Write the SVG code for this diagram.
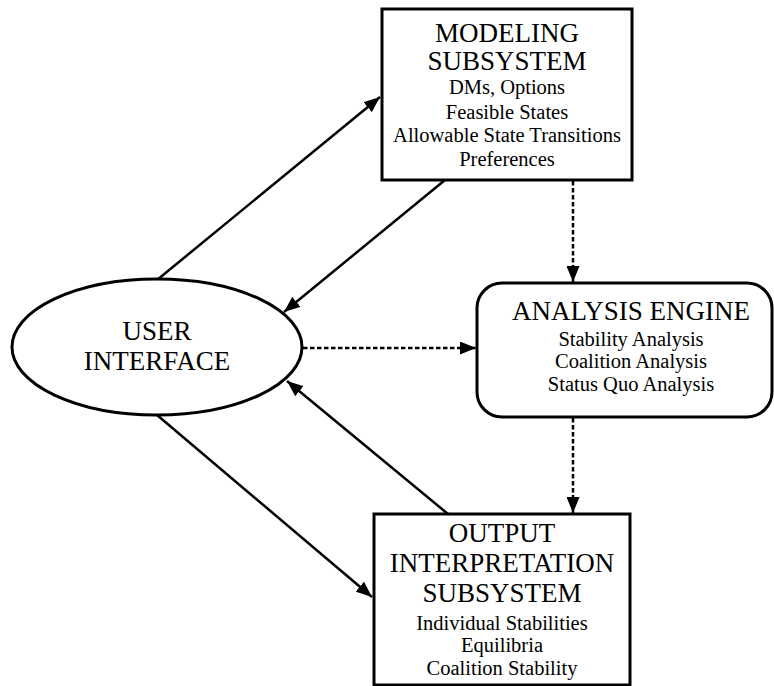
<svg xmlns="http://www.w3.org/2000/svg" width="774" height="686" viewBox="0 0 774 686">
<style>
.box{fill:#fff;stroke:#000;stroke-width:3}
text{font-family:'Liberation Serif','Times New Roman',Times,serif;fill:#000;text-anchor:middle}
.h{font-size:27px}
.b{font-size:20.5px}
.c{fill:none;stroke:#000;stroke-width:2.5}
.d{fill:none;stroke:#000;stroke-width:2.5;stroke-dasharray:4.5 2.5}
</style>
<defs>
<marker id="ah" viewBox="0 0 16 13" refX="16" refY="6.5" markerWidth="16" markerHeight="13" markerUnits="userSpaceOnUse" orient="auto">
<path d="M0,0 L16,6.5 L0,13 z" fill="#000"/>
</marker>
</defs>
<rect width="774" height="686" fill="#fff"/>
<g id="connectors">
<line class="c" x1="157" y1="280" x2="380" y2="97" marker-end="url(#ah)"/>
<line class="c" x1="445" y1="180" x2="284" y2="312" marker-end="url(#ah)"/>
<line class="c" x1="157" y1="415" x2="372" y2="597" marker-end="url(#ah)"/>
<line class="c" x1="448" y1="514" x2="287" y2="381" marker-end="url(#ah)"/>
<line class="d" x1="303" y1="348" x2="476" y2="348" marker-end="url(#ah)"/>
<line class="d" x1="573" y1="181" x2="573" y2="282" marker-end="url(#ah)"/>
<line class="d" x1="573" y1="418" x2="573" y2="513" marker-end="url(#ah)"/>
</g>
<g id="modeling" font-family="Liberation Serif, serif">
<rect class="box" x="382" y="9" width="250" height="171"/>
<text class="h" x="507" y="42">MODELING</text>
<text class="h" x="507" y="70">SUBSYSTEM</text>
<text class="b" x="507" y="94">DMs, Options</text>
<text class="b" x="507" y="119">Feasible States</text>
<text class="b" x="507" y="142">Allowable State Transitions</text>
<text class="b" x="507" y="166">Preferences</text>
</g>
<g id="analysis" font-family="Liberation Serif, serif">
<rect class="box" x="477" y="283" width="295" height="134" rx="25" ry="25"/>
<text class="h" x="631" y="320">ANALYSIS ENGINE</text>
<text class="b" x="631" y="346">Stability Analysis</text>
<text class="b" x="631" y="368">Coalition Analysis</text>
<text class="b" x="631" y="391">Status Quo Analysis</text>
</g>
<g id="user" font-family="Liberation Serif, serif">
<ellipse class="box" cx="157" cy="347" rx="145" ry="68"/>
<text class="h" x="157" y="340">USER</text>
<text class="h" x="157" y="370">INTERFACE</text>
</g>
<g id="output" font-family="Liberation Serif, serif">
<rect class="box" x="374" y="514" width="256" height="171"/>
<text class="h" x="502" y="542">OUTPUT</text>
<text class="h" x="502" y="572">INTERPRETATION</text>
<text class="h" x="502" y="602">SUBSYSTEM</text>
<text class="b" x="502" y="630">Individual Stabilities</text>
<text class="b" x="502" y="652">Equilibria</text>
<text class="b" x="502" y="675">Coalition Stability</text>
</g>
</svg>
